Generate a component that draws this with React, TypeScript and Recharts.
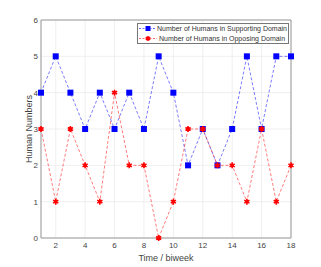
import {
  LineChart,
  Line,
  XAxis,
  YAxis,
  CartesianGrid,
  ReferenceLine,
} from 'recharts'

const biweeks = [1, 2, 3, 4, 5, 6, 7, 8, 9, 10, 11, 12, 13, 14, 15, 16, 17, 18]
const supporting = [4, 5, 4, 3, 4, 3, 4, 3, 5, 4, 2, 3, 2, 3, 5, 3, 5, 5]
const opposing = [3, 1, 3, 2, 1, 4, 2, 2, 0, 1, 3, 3, 2, 2, 1, 3, 1, 2]
const xTicks = [2, 4, 6, 8, 10, 12, 14, 16, 18]
const yTicks = [0, 1, 2, 3, 4, 5, 6]

const SUPPORT_NAME = 'Number of Humans in Supporting Domain'
const OPPOSE_NAME = 'Number of Humans in Opposing Domain'

const data = biweeks.map((t, i) => ({
  t,
  supporting: supporting[i],
  opposing: opposing[i],
}))

const BLUE = '#0000ff'
const RED = '#ff0000'
const FONT = '"Liberation Sans", Arial, sans-serif'

function Square({ cx, cy, size = 6 }: { cx: number; cy: number; size?: number }) {
  return <rect x={cx - size / 2} y={cy - size / 2} width={size} height={size} fill={BLUE} />
}

function Star({ cx, cy, r = 3 }: { cx: number; cy: number; r?: number }) {
  const arms = [0, 60, 120].map((a) => {
    const rad = (a * Math.PI) / 180 + Math.PI / 2
    const dx = Math.cos(rad) * r
    const dy = Math.sin(rad) * r
    return `M${cx - dx},${cy - dy}L${cx + dx},${cy + dy}`
  })
  return (
    <g>
      <path d={arms.join('')} stroke={RED} strokeWidth={1.6} />
      <circle cx={cx} cy={cy} r={r * 0.6} fill={RED} />
    </g>
  )
}

const squareDot = (props: any) => <Square key={`s-${props.index}`} cx={props.cx} cy={props.cy} />
const starDot = (props: any) => <Star key={`r-${props.index}`} cx={props.cx} cy={props.cy} />

function LegendBox() {
  const rows = [
    { name: SUPPORT_NAME, color: BLUE, marker: <Square cx={9} cy={4.5} size={5} /> },
    { name: OPPOSE_NAME, color: RED, marker: <Star cx={9} cy={4.5} r={2.6} /> },
  ]
  return (
    <div
      style={{
        position: 'absolute',
        left: 137,
        top: 23,
        width: 148,
        border: '0.8px solid #777',
        background: '#fff',
        padding: '0px 1px',
        fontFamily: FONT,
        fontSize: 7,
        color: '#333',
        lineHeight: '9.5px',
      }}
    >
      {rows.map((r) => (
        <div key={r.name} style={{ display: 'flex', alignItems: 'center', height: 9.5 }}>
          <svg width={18} height={9} style={{ marginRight: 2 }}>
            <line
              x1={0}
              y1={4.5}
              x2={18}
              y2={4.5}
              stroke={r.color}
              strokeOpacity={0.7}
              strokeDasharray="2 1.5"
              strokeWidth={0.8}
            />
            {r.marker}
          </svg>
          <span style={{ whiteSpace: 'nowrap' }}>{r.name}</span>
        </div>
      ))}
    </div>
  )
}

export default function App() {
  return (
    <div style={{ position: 'absolute', left: 0, top: 0, width: 321, height: 267, background: '#fff' }}>
      <LineChart width={321} height={267} data={data} margin={{ top: 20, right: 30, left: 0, bottom: 0 }}>
        <CartesianGrid stroke="#ebebeb" strokeWidth={0.8} />
        <XAxis
          dataKey="t"
          type="number"
          domain={[1, 18]}
          ticks={xTicks}
          height={29}
          tickSize={0}
          tickMargin={4}
          stroke="#999"
          tick={{ fill: '#444', fontSize: 8, fontFamily: FONT }}
          label={{
            value: 'Time / biweek',
            position: 'insideBottom',
            offset: 6,
            fill: '#444',
            fontSize: 9,
            fontFamily: FONT,
          }}
        />
        <YAxis
          type="number"
          domain={[0, 6]}
          ticks={yTicks}
          width={41}
          tickSize={0}
          tickMargin={3}
          stroke="#999"
          tick={{ fill: '#444', fontSize: 8, fontFamily: FONT }}
          label={{
            value: 'Human Numbers',
            angle: -90,
            position: 'center',
            dx: 8,
            fill: '#444',
            fontSize: 9,
            fontFamily: FONT,
          }}
        />
        <ReferenceLine y={6} stroke="#999" />
        <ReferenceLine x={18} stroke="#999" />
        <Line
          name={SUPPORT_NAME}
          dataKey="supporting"
          stroke={BLUE}
          strokeWidth={0.8}
          strokeOpacity={0.65}
          strokeDasharray="3 2"
          dot={squareDot}
          activeDot={false}
          isAnimationActive={false}
        />
        <Line
          name={OPPOSE_NAME}
          dataKey="opposing"
          stroke={RED}
          strokeWidth={0.8}
          strokeOpacity={0.65}
          strokeDasharray="3 2"
          dot={starDot}
          activeDot={false}
          isAnimationActive={false}
        />
      </LineChart>
      <LegendBox />
    </div>
  )
}
